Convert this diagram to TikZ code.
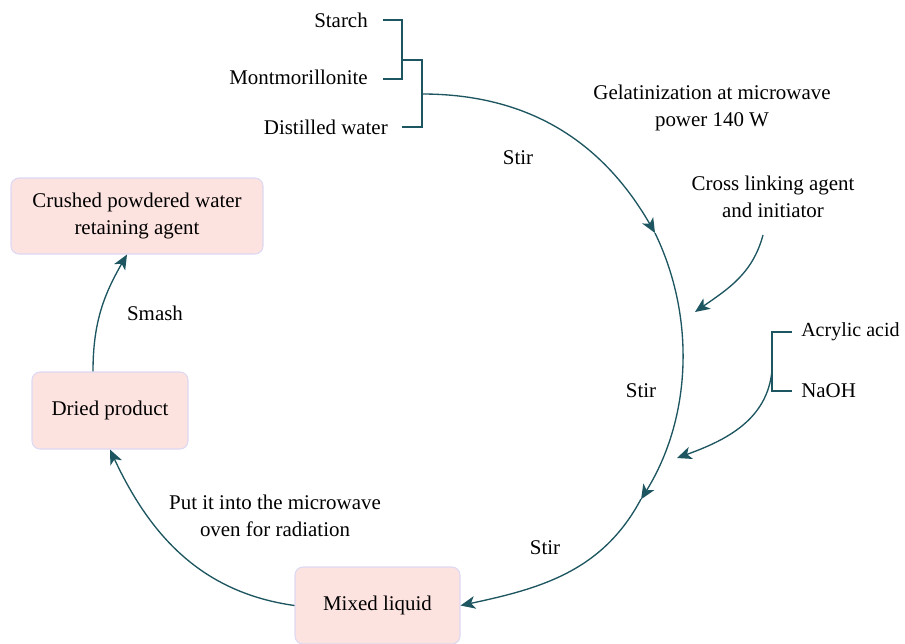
\documentclass[tikz,border=0pt]{standalone}
\usepackage{fontspec}
\setmainfont{Liberation Serif}
\usetikzlibrary{arrows.meta}
\definecolor{edgec}{HTML}{1D5660}
\definecolor{boxfill}{HTML}{FDE3E0}
\definecolor{boxline}{HTML}{DDD8F3}
\begin{document}
\begin{tikzpicture}[x=0.75pt,y=0.75pt,
  box/.style={draw=boxline, fill=boxfill, rounded corners=6pt, line width=0.8pt, align=center, inner sep=0pt},
  lbl/.style={align=center, inner sep=0pt},
  conn/.style={draw=edgec, line width=1pt},
  arr/.style={conn, -{Stealth[length=11pt,width=9.5pt,inset=3pt]}},
  font=\fontsize{15.7}{20}\selectfont]
\useasboundingbox (0,0) rectangle (905,-643);

% boxes
\node[box, minimum width=189pt, minimum height=57pt] (cr) at (137,-216) {Crushed powdered water\\retaining agent};
\node[box, minimum width=117pt, minimum height=57.75pt] (dp) at (110,-410.5) {Dried product};
\node[box, minimum width=123.75pt, minimum height=57.75pt] (ml) at (377.5,-605.5) {Mixed liquid};

% ingredient texts
\node[lbl, anchor=east] (st) at (368,-20) {Starch};
\node[lbl, anchor=east] (mo) at (368,-77) {Montmorillonite};
\node[lbl, anchor=east] (dw) at (388,-127) {Distilled water};
\node[lbl, anchor=west, font=\fontsize{15}{20}\selectfont] (aa) at (801,-332) {Acrylic acid};
\node[lbl, anchor=west] (na) at (801,-391) {NaOH};

% labels
\node[lbl] (gel) at (712,-108) {Gelatinization at microwave\\power 140 W};
\node[lbl] (s1) at (518,-158) {Stir};
\node[lbl] (cl) at (773,-197) {Cross linking agent\\and initiator};
\node[lbl] (s2) at (641,-391) {Stir};
\node[lbl] (s3) at (545,-548) {Stir};
\node[lbl] (put) at (275,-516) {Put it into the microwave\\oven for radiation};
\node[lbl] (sm) at (155,-313) {Smash};

% named points
\coordinate (b1a) at (402,-20);
\coordinate (b1b) at (402,-79);
\coordinate (b1m) at (402,-60);
\coordinate (b2a) at (422,-60);
\coordinate (b2b) at (422,-127);
\coordinate (b2m) at (422,-94);
\coordinate (t1) at (655,-233);
\coordinate (t2) at (641,-499);
\coordinate (clst) at (763,-235);
\coordinate (clend) at (695,-312);
\coordinate (b3a) at (772,-332);
\coordinate (b3b) at (772,-391);
\coordinate (b3m) at (772,-370);
\coordinate (aend) at (677,-458);

% brackets
\draw[conn] (383,-20) -- (b1a) -- (b1b) -- (383,-79);
\draw[conn] (b1m) -- (b2a) -- (b2b) -- (402,-127);
\draw[conn] (792,-332) -- (b3a) -- (b3b) -- (792,-391);

% main cycle
\draw[arr] (b2m) to[out=0,in=120] (t1);
\draw[arr] (t1) arc[start angle=25.8, end angle=-31.8, radius=276.8];
\draw[arr] (t2) to[out=-118,in=12] (ml.east);
\draw[arr] (ml.west) to[out=172,in=-65] (dp.south);
\draw[arr] ([xshift=-12.75pt]dp.north) to[out=90,in=-120] ([xshift=-7.5pt]cr.south);

% side inputs
\draw[arr] (clst) to[out=-105,in=35] (clend);
\draw[arr] (b3m) to[out=-95,in=20] (aend);
\end{tikzpicture}
\end{document}
